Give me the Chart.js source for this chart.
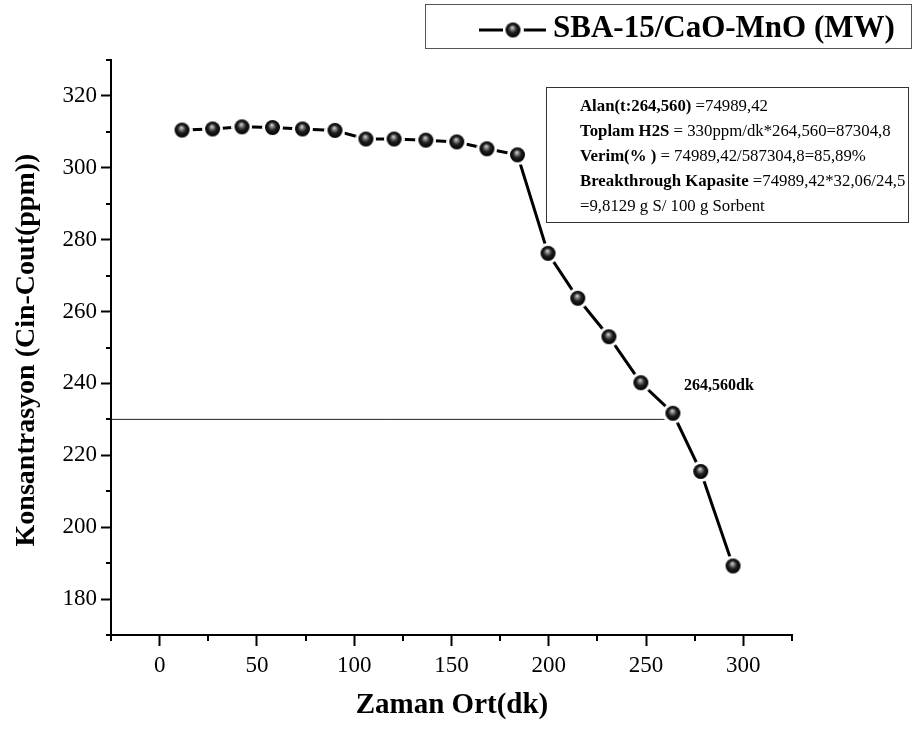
<!DOCTYPE html>
<html>
<head>
<meta charset="utf-8">
<script src="https://cdn.jsdelivr.net/npm/chart.js@4.4.0/dist/chart.umd.min.js"></script>
<style>
  html, body { margin: 0; padding: 0; background: #fff; }
  #grafik { display: block; }
</style>
</head>
<body>
<canvas id="grafik" width="919" height="729"></canvas>
<script>
// Ölçüm verileri: ortalama zaman (dk) ve konsantrasyon (ppm)
const zaman = [11.5, 27.2, 42.3, 58.0, 73.4, 90.1, 106.0, 120.5, 136.8, 152.7, 168.2, 183.9, 199.6, 214.9, 230.9, 247.3, 263.8, 278.1, 294.7];
const konsantrasyon = [310.5, 310.8, 311.4, 311.2, 310.8, 310.4, 308.0, 308.0, 307.7, 307.2, 305.3, 303.6, 276.2, 263.7, 253.0, 240.2, 231.7, 215.5, 189.2];

// Kırılma noktası çizgisi
const kirilmaX = [-25, 263.8];
const kirilmaY = [230, 230];

const xTicks = [0, 50, 100, 150, 200, 250, 300];
const yTicks = [180, 200, 220, 240, 260, 280, 300, 320];
const xMinor = [-25, 25, 75, 125, 175, 225, 275, 325];
const yMinor = [170, 190, 210, 230, 250, 270, 290, 310, 330];

const seriAdi = 'SBA-15/CaO-MnO (MW)';
const kirilmaEtiketi = '264,560dk';
const notlar = [
    ['Alan(t:264,560)', ' =74989,42'],
    ['Toplam H2S', ' = 330ppm/dk*264,560=87304,8'],
    ['Verim(% )', ' = 74989,42/587304,8=85,89%'],
    ['Breakthrough Kapasite', ' =74989,42*32,06/24,5'],
    ['', '=9,8129 g S/ 100 g Sorbent']
];

const SERIF = '"Liberation Serif", "Times New Roman", serif';

// Küre görünümlü nokta işareti (etrafında beyaz boşluk)
function kure(r) {
    const bosluk = 3;
    const c = document.createElement('canvas');
    const s = Math.ceil(2 * (r + bosluk));
    c.width = c.height = s;
    const g = c.getContext('2d');
    const m = s / 2;
    g.fillStyle = '#fff';
    g.beginPath(); g.arc(m, m, r + bosluk, 0, Math.PI * 2); g.fill();
    const grad = g.createRadialGradient(m - r * 0.1, m - r * 0.35, 0, m, m, r);
    grad.addColorStop(0, '#e6e6e6');
    grad.addColorStop(0.22, '#8c8c8c');
    grad.addColorStop(0.55, '#202020');
    grad.addColorStop(1, '#000');
    g.fillStyle = grad;
    g.beginPath(); g.arc(m, m, r, 0, Math.PI * 2); g.fill();
    return c;
}
const isaret = kure(7.5);

// Ara çentikler, lejant, not kutusu ve eksen başlıkları
const ekler = {
    id: 'ekler',
    afterDraw(chart) {
        const ctx = chart.ctx;
        const xs = chart.scales.x, ys = chart.scales.y;
        const a = chart.chartArea;
        ctx.save();
        ctx.strokeStyle = '#000';
        ctx.lineWidth = 2;
        ctx.beginPath();
        xMinor.forEach(v => {
            const px = Math.round(xs.getPixelForValue(v));
            ctx.moveTo(px, a.bottom); ctx.lineTo(px, a.bottom + 6);
        });
        yMinor.forEach(v => {
            const py = Math.round(ys.getPixelForValue(v));
            ctx.moveTo(a.left, py); ctx.lineTo(a.left - 5, py);
        });
        ctx.stroke();

        // lejant
        ctx.lineWidth = 1;
        ctx.strokeStyle = '#555';
        ctx.strokeRect(425.5, 4.5, 486, 44);
        ctx.strokeStyle = '#000';
        ctx.lineWidth = 3;
        ctx.beginPath();
        ctx.moveTo(479, 30); ctx.lineTo(503, 30);
        ctx.moveTo(523, 30); ctx.lineTo(546, 30);
        ctx.stroke();
        ctx.drawImage(isaret, 513 - isaret.width / 2, 30 - isaret.height / 2);
        ctx.fillStyle = '#000';
        ctx.font = 'bold 31px ' + SERIF;
        ctx.textBaseline = 'middle';
        ctx.textAlign = 'left';
        ctx.fillText(seriAdi, 553, 29);

        // not kutusu
        ctx.lineWidth = 1;
        ctx.strokeStyle = '#333';
        ctx.strokeRect(546.5, 87.5, 362, 135);
        ctx.fillStyle = '#000';
        notlar.forEach((satir, i) => {
            const y = 107 + i * 25;
            let x = 580;
            ctx.font = 'bold 16.8px ' + SERIF;
            ctx.fillText(satir[0], x, y);
            x += ctx.measureText(satir[0]).width;
            ctx.font = '16.8px ' + SERIF;
            ctx.fillText(satir[1], x, y);
        });

        ctx.font = 'bold 16px ' + SERIF;
        ctx.fillText(kirilmaEtiketi, 684, 386);

        // eksen başlıkları
        ctx.font = 'bold 29px ' + SERIF;
        ctx.textAlign = 'center';
        ctx.fillText('Zaman Ort(dk)', 452, 706);
        ctx.save();
        ctx.translate(27, 350);
        ctx.rotate(-Math.PI / 2);
        ctx.font = 'bold 28px ' + SERIF;
        ctx.fillText('Konsantrasyon (Cin-Cout(ppm))', 0, 0);
        ctx.restore();
        ctx.restore();
    }
};

new Chart(document.getElementById('grafik').getContext('2d'), {
    type: 'line',
    data: {
        datasets: [{
            label: seriAdi,
            data: zaman.map((x, i) => ({ x: x, y: konsantrasyon[i] })),
            borderColor: '#000',
            borderWidth: 3,
            pointStyle: isaret,
            pointRadius: 8,
            tension: 0,
            order: 0
        }, {
            label: 'kirilma',
            data: kirilmaX.map((x, i) => ({ x: x, y: kirilmaY[i] })),
            borderColor: '#222',
            borderWidth: 1,
            pointRadius: 0,
            order: 1
        }]
    },
    options: {
        responsive: false,
        animation: false,
        layout: { padding: { left: 0, top: 60, right: 127, bottom: 0 } },
        plugins: {
            legend: { display: false },
            tooltip: { enabled: false }
        },
        scales: {
            x: {
                type: 'linear',
                min: -25,
                max: 325,
                afterFit: s => { s.height = 94; },
                afterBuildTicks: s => { s.ticks = xTicks.map(v => ({ value: v })); },
                border: { display: true, color: '#000', width: 2 },
                grid: { drawOnChartArea: false, drawTicks: true, tickLength: 11, tickWidth: 2, tickColor: '#000' },
                ticks: { color: '#000', padding: 6, maxRotation: 0, font: { family: SERIF, size: 23 } }
            },
            y: {
                type: 'linear',
                min: 170,
                max: 330,
                afterFit: s => { s.width = 111; },
                afterBuildTicks: s => { s.ticks = yTicks.map(v => ({ value: v })); },
                border: { display: true, color: '#000', width: 2 },
                grid: { drawOnChartArea: false, drawTicks: true, tickLength: 10, tickWidth: 2, tickColor: '#000' },
                ticks: { color: '#000', padding: 4, font: { family: SERIF, size: 23 } }
            }
        }
    },
    plugins: [ekler]
});
</script>
</body>
</html>
